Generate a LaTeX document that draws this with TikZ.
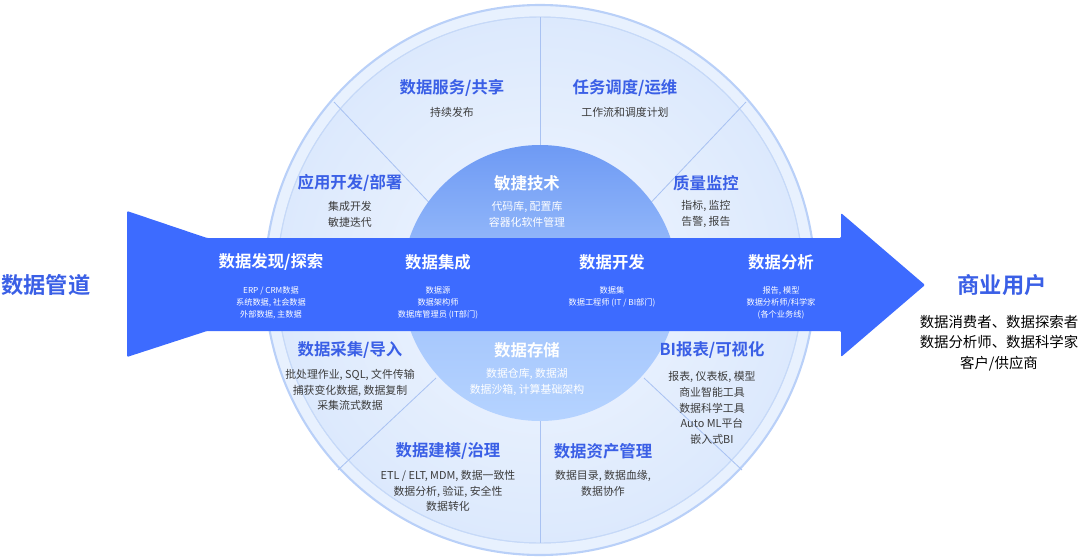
\documentclass[tikz,border=0pt]{standalone}
\usepackage{fontspec}
\setmainfont{Noto Sans CJK SC}
\newfontfamily\cjkb{Noto Sans CJK SC Bold}
\definecolor{arrowblue}{HTML}{3D6BFF}
\definecolor{titleblue}{HTML}{3A5FE6}
\definecolor{outerfill}{HTML}{E8F1FE}
\definecolor{outerline}{HTML}{B9D0F8}
\definecolor{ringfill}{HTML}{DCE9FD}
\definecolor{ringline}{HTML}{C6D9F8}
\definecolor{divline}{HTML}{A9C2F2}
\definecolor{subgray}{HTML}{3C3C3C}
\definecolor{innertop}{HTML}{6E9AF4}
\definecolor{innerbot}{HTML}{B5D3FF}
\begin{document}
\begin{tikzpicture}[x=0.03cm,y=-0.03cm,
  ttl/.style={font=\cjkb\fontsize{14}{15}\selectfont, text=titleblue},
  sub/.style={font=\fontsize{9.3}{13.5}\selectfont, text=subgray, align=center},
  wttl/.style={font=\cjkb\fontsize{14}{15}\selectfont, text=white},
  wsub/.style={font=\fontsize{9.3}{13.5}\selectfont, text=white, align=center},
  asub/.style={font=\fontsize{7}{10.5}\selectfont, text=white, align=center},
  div/.style={draw=divline, line width=0.7pt}]
\useasboundingbox (0,0) rectangle (1080,558);
% discs
\fill[outerfill, draw=outerline, line width=1.8pt] (540,280) circle (275);
\shade[inner color=white!60!ringfill, outer color=ringfill, draw=ringline, line width=0.8pt] (540,280) circle (263);
\draw[ringline, line width=0.8pt] (540,280) circle (263);
% dividers
\coordinate (d1a) at (540,17); \coordinate (d1b) at (540,145);
\coordinate (d2a) at (334,102); \coordinate (d2b) at (438,212);
\coordinate (d3a) at (746,102); \coordinate (d3b) at (642,212);
\coordinate (d4a) at (436,378); \coordinate (d4b) at (338,470);
\coordinate (d5a) at (644,378); \coordinate (d5b) at (742,470);
\coordinate (d6a) at (540,421); \coordinate (d6b) at (540,543);
\draw[div] (d1a)--(d1b); \draw[div] (d2a)--(d2b); \draw[div] (d3a)--(d3b);
\draw[div] (d4a)--(d4b); \draw[div] (d5a)--(d5b); \draw[div] (d6a)--(d6b);
% inner circle
\shade[top color=innertop, bottom color=innerbot, middle color=innerbot!70!innertop] (540,283) circle (138);
% arrow
\fill[arrowblue, rounded corners=1pt] (127,211) -- (207,238) -- (841,238) -- (841,213) -- (925,285) -- (841,357) -- (841,331) -- (207,331) -- (127,357) -- cycle;
% upper sectors
\node[ttl] (t1) at (452,88) {数据服务/共享};
\node[sub] (s1) at (452,112) {持续发布};
\node[ttl] (t2) at (625,88) {任务调度/运维};
\node[sub] (s2) at (625,112) {工作流和调度计划};
\node[ttl] (t3) at (350,183) {应用开发/部署};
\node[sub] (s3) at (350,214) {集成开发\\敏捷迭代};
\node[wttl] (t4) at (527,183) {敏捷技术};
\node[wsub] (s4) at (527,214) {代码库, 配置库\\容器化软件管理};
\node[ttl] (t5) at (706,183) {质量监控};
\node[sub] (s5) at (706,214) {指标, 监控\\告警, 报告};
% arrow texts
\node[wttl] (a1) at (271,262) {数据发现/探索};
\node[asub] (b1) at (271,303) {ERP / CRM数据\\系统数据, 社会数据\\外部数据, 主数据};
\node[wttl] (a2) at (438,262) {数据集成};
\node[asub] (b2) at (438,303) {数据源\\数据架构师\\数据库管理员 (IT部门)};
\node[wttl] (a3) at (612,262) {数据开发};
\node[asub] (b3) at (612,297) {数据集\\数据工程师 (IT / BI部门)};
\node[wttl] (a4) at (781,262) {数据分析};
\node[asub] (b4) at (781,303) {报告, 模型\\数据分析师/科学家\\(各个业务线)};
% lower sectors
\node[ttl] (t6) at (350,350) {数据采集/导入};
\node[sub] (s6) at (350,390) {批处理作业, SQL, 文件传输\\捕获变化数据, 数据复制\\采集流式数据};
\node[wttl] (t7) at (527,350) {数据存储};
\node[wsub] (s7) at (527,382) {数据仓库, 数据湖\\数据沙箱, 计算基础架构};
\node[ttl] (t8) at (712,350) {BI报表/可视化};
\node[sub] (s8) at (712,408) {报表, 仪表板, 模型\\商业智能工具\\数据科学工具\\Auto ML平台\\嵌入式BI};
\node[ttl] (t9) at (448,451) {数据建模/治理};
\node[sub] (s9) at (448,491) {ETL / ELT, MDM, 数据一致性\\数据分析, 验证, 安全性\\数据转化};
\node[ttl] (t10) at (603,451) {数据资产管理};
\node[sub] (s10) at (603,483) {数据目录, 数据血缘,\\数据协作};
% sides
\node[font=\cjkb\fontsize{19}{22}\selectfont, text=titleblue] (l) at (46,285) {数据管道};
\node[font=\cjkb\fontsize{19}{22}\selectfont, text=titleblue] (r) at (1002,285) {商业用户};
\node[font=\fontsize{12.3}{17.5}\selectfont, text=black, align=center] (rs) at (999,343) {数据消费者、数据探索者\\数据分析师、数据科学家\\客户/供应商};
\end{tikzpicture}
\end{document}
